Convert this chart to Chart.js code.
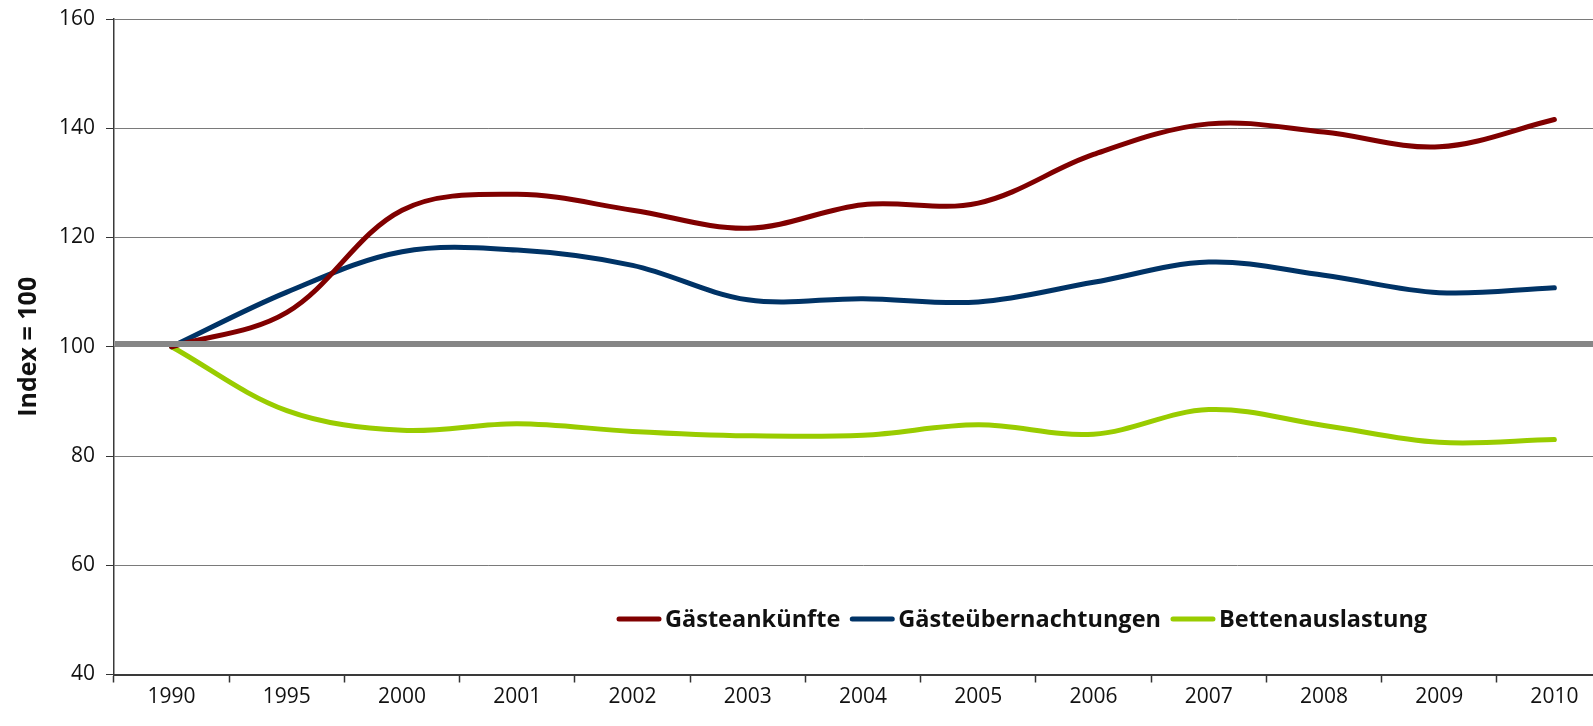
<!DOCTYPE html>
<html lang="de">
<head>
<meta charset="utf-8">
<title>Gästeankünfte, Gästeübernachtungen, Bettenauslastung</title>
<script src="https://cdn.jsdelivr.net/npm/chart.js@4/dist/chart.umd.min.js"></script>
<style>
    html, body { margin: 0; padding: 0; background: #fff; overflow: hidden; }
    #wrap { width: 1612px; height: 726px; }
</style>
</head>
<body>
<div id="wrap"><canvas id="chart" width="1612" height="726"></canvas></div>
<script>
// Years on the category axis
const years = ['1990', '1995', '2000', '2001', '2002', '2003', '2004', '2005', '2006', '2007', '2008', '2009', '2010'];

// Index values (1990 = 100)
const gaesteankuenfte = [100, 106.3, 125.0, 127.9, 125.0, 121.7, 126.0, 126.3, 135.2, 140.8, 139.3, 136.6, 141.6];
const gaesteuebernachtungen = [100, 110.0, 117.4, 117.7, 114.9, 108.6, 108.8, 108.2, 111.8, 115.5, 113.1, 109.9, 110.8];
const bettenauslastung = [100, 88.3, 84.7, 85.9, 84.5, 83.7, 83.8, 85.7, 84.0, 88.5, 85.6, 82.5, 83.0];

// Reference line and y axis range
const baseline = 100.5;
const yMin = 40;
const yMax = 160;
const yStep = 20;

const tickFont = { family: 'Open Sans', size: 21 };

// Thick grey reference line drawn over the series
const baselinePlugin = {
    id: 'baseline',
    afterDatasetsDraw(chart) {
        const { ctx, chartArea } = chart;
        const y = chart.scales.y.getPixelForValue(baseline);
        ctx.save();
        ctx.strokeStyle = '#868686';
        ctx.lineWidth = 6;
        ctx.beginPath();
        ctx.moveTo(chartArea.left + 1, y);
        ctx.lineTo(chartArea.right, y);
        ctx.stroke();
        ctx.restore();
    }
};

// Legend sitting inside the plot, above the x axis
const inlineLegend = {
    id: 'inlineLegend',
    afterDraw(chart) {
        const ctx = chart.ctx;
        let x = 617;
        const y = 619;
        ctx.save();
        ctx.font = 'bold 23.5px "Open Sans"';
        ctx.textBaseline = 'middle';
        ctx.fillStyle = '#111';
        chart.data.datasets.forEach(ds => {
            ctx.strokeStyle = ds.borderColor;
            ctx.lineWidth = 5;
            ctx.lineCap = 'round';
            ctx.beginPath();
            ctx.moveTo(x + 2, y);
            ctx.lineTo(x + 42, y);
            ctx.stroke();
            x += 48;
            ctx.fillText(ds.label, x, y + 1);
            x += ctx.measureText(ds.label).width + 10;
        });
        ctx.restore();
    }
};

function lineDataset(label, data, color) {
    return {
        label: label,
        data: data,
        borderColor: color,
        backgroundColor: color,
        borderWidth: 5,
        borderCapStyle: 'round',
        borderJoinStyle: 'round',
        pointRadius: 0,
        tension: 0.35,
        fill: false
    };
}

new Chart(document.getElementById('chart').getContext('2d'), {
    type: 'line',
    data: {
        labels: years,
        datasets: [
            lineDataset('Gästeankünfte', gaesteankuenfte, '#800000'),
            lineDataset('Gästeübernachtungen', gaesteuebernachtungen, '#003366'),
            lineDataset('Bettenauslastung', bettenauslastung, '#99cc00')
        ]
    },
    options: {
        responsive: false,
        animation: false,
        layout: {
            autoPadding: false,
            padding: { top: 19, right: 0, bottom: 0, left: 0 }
        },
        plugins: {
            legend: { display: false },
            tooltip: { enabled: false }
        },
        scales: {
            x: {
                type: 'category',
                offset: true,
                grid: {
                    offset: true,
                    drawOnChartArea: false,
                    drawTicks: true,
                    tickLength: 8,
                    tickColor: '#333',
                    tickWidth: 1.5
                },
                border: { color: '#3a3a3a', width: 2 },
                ticks: {
                    color: '#111',
                    font: tickFont,
                    padding: 2,
                    maxRotation: 0,
                    autoSkip: false
                },
                afterFit(scale) {
                    scale.height = 51.5;
                    scale.paddingLeft = 0;
                    scale.paddingRight = 0;
                }
            },
            y: {
                min: yMin,
                max: yMax,
                grid: {
                    color: '#7a7a7a',
                    lineWidth: 1,
                    tickLength: 8,
                    tickColor: '#333'
                },
                border: { color: '#3a3a3a', width: 1.5 },
                ticks: {
                    stepSize: yStep,
                    color: '#111',
                    font: tickFont,
                    padding: 11
                },
                title: {
                    display: true,
                    text: 'Index = 100',
                    color: '#111',
                    font: { family: 'Open Sans', size: 25, weight: 'bold' },
                    padding: { top: 14, bottom: 0 }
                },
                afterFit(scale) {
                    scale.width = 114;
                    scale.paddingTop = 0;
                    scale.paddingBottom = 0;
                }
            }
        }
    },
    plugins: [baselinePlugin, inlineLegend]
});
</script>
</body>
</html>
